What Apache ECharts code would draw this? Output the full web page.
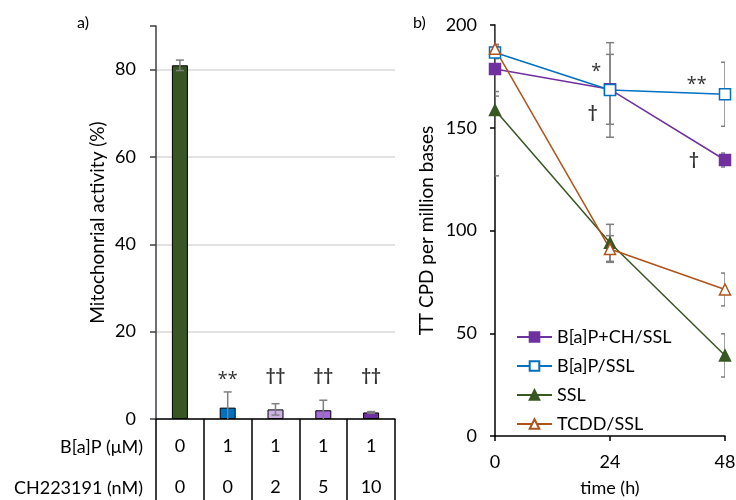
<!DOCTYPE html>
<html lang="en">
<head>
  <meta charset="UTF-8">
  <script src="https://cdn.jsdelivr.net/npm/echarts@6/dist/echarts.min.js"></script>
  <style>
    html, body { margin: 0; padding: 0; background: #fff; }
    #container { width: 736px; height: 500px; }
  </style>
</head>
<body>
  <div id="container"></div>
  <script>
    // panel a) mitochondrial activity
    var bapConc = ['0', '1', '1', '1', '1'];
    var chConc = ['0', '0', '2', '5', '10'];
    var activity = [81, 2.6, 2.2, 2.0, 1.5];
    var activityErr = [1.2, 3.6, 1.3, 2.3, 0.2];
    var barMarks = ['', '**', '††', '††', '††'];
    var barColors = ['#375623', '#0070c0', '#cdb1e6', '#a468d8', '#7030a0'];

    // panel b) TT CPD over time
    var timePts = [0, 24, 48];
    var purpleVals = [178.6, 168.7, 134.3];
    var purpleErr = [11, 17, 3.4];
    var blueVals = [186.6, 168.4, 166.3];
    var blueErr = [3, 23, 15.6];
    var sslVals = [158.6, 94, 39.2];
    var sslErr = [32, 9, 10.5];
    var tcddVals = [188.4, 91, 71.3];
    var tcddErr = [23, 6.5, 8];
    // significance marks [time, value, text]
    var lineMarks = [[21.1, 179.7, '*'], [20.4, 157.2, '†'], [42.1, 173.2, '**'], [41.5, 134.3, '†']];

    var FONT = 'Lato';
    var FS = 18;

    function errRender(params, api) {
      var x = api.value(0);
      var top = api.coord([x, api.value(2)]);
      var bot = api.coord([x, api.value(1)]);
      var w = 4;
      var style = { stroke: '#7f7f7f', lineWidth: 1.5, fill: null };
      return {
        type: 'group',
        children: [
          { type: 'line', shape: { x1: top[0], y1: top[1], x2: bot[0], y2: bot[1] }, style: style },
          { type: 'line', shape: { x1: top[0] - w, y1: top[1], x2: top[0] + w, y2: top[1] }, style: style },
          { type: 'line', shape: { x1: bot[0] - w, y1: bot[1], x2: bot[0] + w, y2: bot[1] }, style: style }
        ]
      };
    }

    function errData(xs, vals, errs) {
      return vals.map(function (v, i) { return [xs[i], v - errs[i], v + errs[i]]; });
    }

    // asterisks get a wider font, daggers stay in the main font
    function markItem(point) {
      var star = point[2].indexOf('*') >= 0;
      return {
        value: point,
        label: star
          ? { fontFamily: 'Noto Sans', fontSize: 18, offset: [0, 5] }
          : { fontFamily: FONT, fontSize: 17, fontWeight: 'bold' }
      };
    }

    var barIdx = activity.map(function (v, i) { return i; });

    var lineSeriesDef = [
      { name: 'B[a]P+CH/SSL', vals: purpleVals, color: '#7030a0', symbol: 'rect', fill: '#7030a0' },
      { name: 'B[a]P/SSL', vals: blueVals, color: '#0070c0', symbol: 'rect', fill: '#ffffff' },
      { name: 'SSL', vals: sslVals, color: '#385723', symbol: 'triangle', fill: '#385723' },
      { name: 'TCDD/SSL', vals: tcddVals, color: '#b0531a', symbol: 'triangle', fill: '#ffffff' }
    ];

    var markLabel = {
      show: true, position: 'inside',
      formatter: function (p) { return p.value[2]; },
      color: '#000'
    };

    var series = [
      {
        type: 'bar', xAxisIndex: 0, yAxisIndex: 0,
        barWidth: 16,
        data: activity.map(function (v, i) {
          return { value: v, itemStyle: { color: barColors[i] } };
        }),
        itemStyle: { borderColor: '#000', borderWidth: 1 },
        silent: true
      },
      {
        type: 'custom', xAxisIndex: 0, yAxisIndex: 0,
        renderItem: errRender, clip: true, z: 5,
        encode: { x: 0, y: [1, 2] },
        data: errData(barIdx, activity, activityErr)
      },
      {
        type: 'scatter', xAxisIndex: 0, yAxisIndex: 0,
        symbolSize: 0,
        data: barMarks.map(function (m, i) { return markItem([i, 10, m]); }),
        label: markLabel
      },
      {
        type: 'scatter', xAxisIndex: 1, yAxisIndex: 1,
        symbolSize: 0,
        data: lineMarks.map(markItem),
        label: markLabel
      }
    ];

    var errSets = [[purpleVals, purpleErr], [blueVals, blueErr], [sslVals, sslErr], [tcddVals, tcddErr]];
    errSets.forEach(function (s) {
      series.push({
        type: 'custom', xAxisIndex: 1, yAxisIndex: 1,
        renderItem: errRender, clip: true, z: 1,
        encode: { x: 0, y: [1, 2] },
        data: errData(timePts, s[0], s[1])
      });
    });

    lineSeriesDef.forEach(function (d) {
      series.push({
        name: d.name,
        type: 'line', xAxisIndex: 1, yAxisIndex: 1, z: 3,
        data: timePts.map(function (t, i) { return [t, d.vals[i]]; }),
        symbol: d.symbol,
        symbolSize: 11,
        lineStyle: { color: d.color, width: 1.5 },
        itemStyle: { color: d.fill, borderColor: d.color, borderWidth: 1.5 }
      });
    });

    var chart = echarts.init(document.getElementById('container'));
    chart.setOption({
      animation: false,
      textStyle: { fontFamily: FONT },
      grid: [
        { left: 156, right: 341, top: 26, bottom: 81, outerBoundsMode: 'none' },
        { left: 495, right: 11, top: 25, bottom: 64, outerBoundsMode: 'none' }
      ],
      xAxis: [
        {
          gridIndex: 0, type: 'category',
          data: barIdx,
          axisLine: { lineStyle: { color: '#000', width: 1.5 } },
          axisTick: { show: true, length: 81, lineStyle: { color: '#000', width: 1.5 } },
          axisLabel: {
            margin: 7,
            formatter: function (v, i) { return bapConc[i] + '\n' + chConc[i]; },
            fontSize: FS, lineHeight: 41, color: '#000', fontFamily: FONT
          }
        },
        {
          gridIndex: 1, type: 'value',
          min: 0, max: 48, interval: 24,
          name: 'time (h)', nameLocation: 'middle', nameGap: 43,
          nameTextStyle: { fontSize: FS, color: '#000', fontFamily: FONT },
          axisLine: { lineStyle: { color: '#000', width: 1.5 } },
          axisTick: { show: true, length: 5, lineStyle: { color: '#000', width: 1.5 } },
          axisLabel: { margin: 17, fontSize: FS, color: '#000', fontFamily: FONT },
          splitLine: { show: false }
        }
      ],
      yAxis: [
        {
          gridIndex: 0, type: 'value',
          min: 0, max: 90, interval: 20,
          name: 'Mitochonrial activity (%)', nameLocation: 'middle', nameGap: 49,
          nameTextStyle: { fontSize: FS + 1, color: '#000', fontFamily: FONT },
          axisLine: { show: true, lineStyle: { color: '#404040', width: 1.5 } },
          axisTick: { show: true, length: 6, lineStyle: { color: '#404040', width: 1.5 } },
          axisLabel: {
            margin: 20, fontSize: FS, color: '#000', fontFamily: FONT,
            formatter: function (v) { return v % 20 === 0 ? String(v) : ''; }
          },
          splitLine: { show: true, showMaxLine: false, lineStyle: { color: '#d9d9d9', width: 1.5 } }
        },
        {
          gridIndex: 1, type: 'value',
          min: 0, max: 200, interval: 50,
          name: 'TT CPD per million bases', nameLocation: 'middle', nameGap: 59,
          nameTextStyle: { fontSize: FS + 1, color: '#000', fontFamily: FONT },
          axisLine: { show: true, lineStyle: { color: '#000', width: 1.5 } },
          axisTick: { show: true, length: 5, lineStyle: { color: '#000', width: 1.5 } },
          axisLabel: { margin: 18, fontSize: FS, color: '#000', fontFamily: FONT },
          splitLine: { show: false }
        }
      ],
      legend: {
        orient: 'vertical',
        left: 511, top: 323,
        itemWidth: 35, itemHeight: 12, itemGap: 11,
        textStyle: { fontSize: FS, color: '#000', fontFamily: FONT },
        data: lineSeriesDef.map(function (d) { return d.name; })
      },
      graphic: [
        { type: 'text', left: 77, top: 15, style: { text: 'a)', fontSize: 16, fontFamily: FONT, fill: '#000' } },
        { type: 'text', left: 413, top: 15, style: { text: 'b)', fontSize: 16, fontFamily: FONT, fill: '#000' } },
        { type: 'text', right: 736 - 143, top: 438, style: { text: 'B[a]P (\u03bcM)', fontSize: FS, fontFamily: FONT, fill: '#000' } },
        { type: 'text', right: 736 - 143, top: 479, style: { text: 'CH223191 (nM)', fontSize: FS, fontFamily: FONT, fill: '#000' } }
      ],
      series: series
    });
  </script>
</body>
</html>
